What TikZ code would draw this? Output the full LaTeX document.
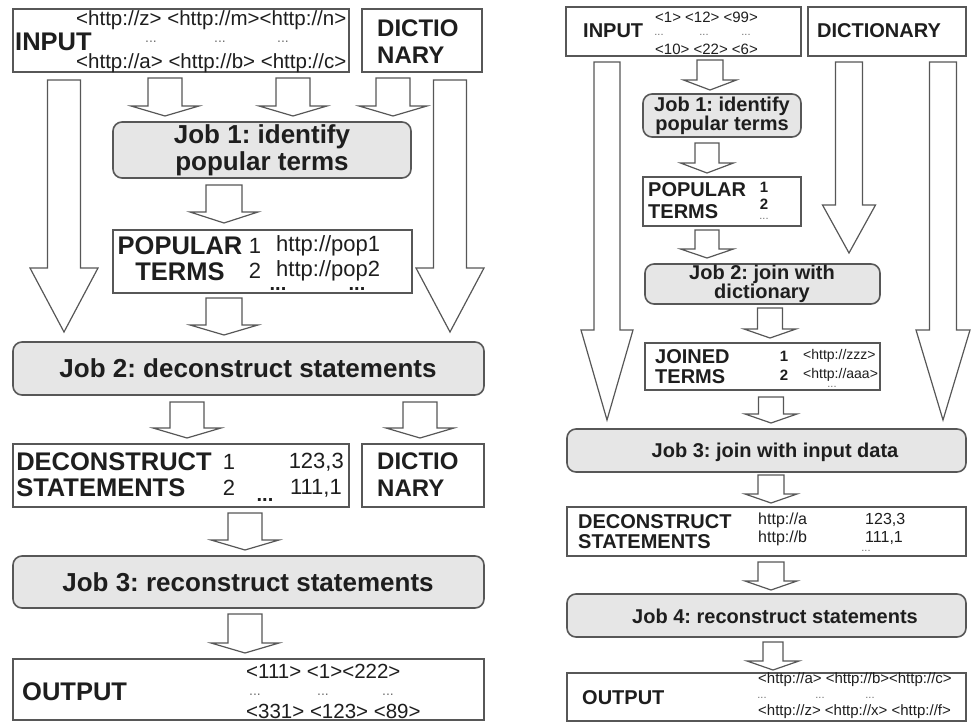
\documentclass[tikz,border=0pt]{standalone}
\usepackage{fontspec}
\setmainfont{Liberation Sans}
\usetikzlibrary{fit}
\definecolor{ln}{HTML}{575757}
\definecolor{jobfill}{HTML}{E6E6E6}
\definecolor{tx}{HTML}{1E1E1E}
\definecolor{dotc}{HTML}{707070}
\newcommand\fsz[2]{\fontsize{#1}{#2}\selectfont}
\tikzset{
  box/.style={draw=ln, line width=1.6pt, inner sep=0pt, fill=white},
  jobbox/.style={draw=ln, line width=1.6pt, inner sep=0pt, fill=jobfill, rounded corners=9pt},
  blk/.style={draw=ln, line width=1.2pt, fill=white, line join=miter},
  labL/.style={inner sep=0pt, text=tx, font=\fsz{25.5}{26}\bfseries, align=left},
  labLc/.style={inner sep=0pt, text=tx, font=\fsz{25.5}{26}\bfseries, align=center},
  jobL/.style={inner sep=0pt, text=tx, font=\fsz{26}{27}\bfseries, align=center},
  smL/.style={inner sep=0pt, text=tx, font=\fsz{20.5}{21}},
  numL/.style={inner sep=0pt, text=tx, font=\fsz{22}{22}},
  dotL/.style={inner sep=0pt, text=dotc, font=\fsz{14}{14}},
  bdotL/.style={inner sep=0pt, text=tx, font=\fsz{20}{20}\bfseries},
  labR/.style={inner sep=0pt, text=tx, font=\fsz{20}{21}\bfseries, align=left},
  jobR/.style={inner sep=0pt, text=tx, font=\fsz{20}{19}\bfseries, align=center},
  smR/.style={inner sep=0pt, text=tx, font=\fsz{15}{15}},
  numR/.style={inner sep=0pt, text=tx, font=\fsz{15}{15}\bfseries},
  dotR/.style={inner sep=0pt, text=dotc, font=\fsz{11}{11}},
}
% block arrow: x, top, tip, shaft half width, head half width, head length
\newcommand\barrow[6]{%
  \draw[blk] (#1-#4,#2) -- (#1+#4,#2) -- (#1+#4,#3-#6) -- (#1+#5,#3-#6) -- (#1,#3)
    -- (#1-#5,#3-#6) -- (#1-#4,#3-#6) -- cycle;}
\begin{document}
\frenchspacing
\begin{tikzpicture}[x=1pt,y=-1pt]
\useasboundingbox (0,0) rectangle (974,722);

%%%%%%%%%%%%%%%% LEFT PANEL %%%%%%%%%%%%%%%%
% big arrows
\barrow{64}{80}{332}{16.5}{34}{64}
\barrow{450}{80}{332}{16.5}{34}{64}
% small arrows to Job 1
\barrow{165}{78}{116}{17}{34}{10}
\barrow{293}{78}{116}{17}{34}{10}
\barrow{393}{78}{116}{17}{34}{10}

\node[box, fit={(13,9) (349,72)}] (inL) {};
\node[labL, anchor=west] (inLt) at (15,42) {INPUT};
\node[smL, anchor=west] (inL1) at (76,20) {<http://z> <http://m><http://n>};
\node[dotL] (inLd1) at (151,42) {...};
\node[dotL] (inLd2) at (220,42) {...};
\node[dotL] (inLd3) at (283,42) {...};
\node[smL, anchor=west] (inL2) at (76,63) {<http://a> <http://b> <http://c>};

\node[box, fit={(362,9) (482,72)}] (dictL) {};
\node[labL, anchor=west, font=\fsz{24}{27}\bfseries] (dictLt) at (377,42) {DICTIO\\NARY};

\node[jobbox, fit={(113,122) (411,178)}] (job1L) {};
\node[jobL] (job1Lt) at (262,150) {Job 1: identify\\popular terms};

\barrow{224}{185}{223}{18}{34}{11}

\node[box, fit={(113,230) (412,293)}] (popL) {};
\node[labLc] (popLt) at (180,259) {POPULAR\\TERMS};
\node[numL] (popL1) at (255,246) {1};
\node[numL] (popL2) at (255,271) {2};
\node[numL, anchor=west] (popLu1) at (276,246) {http://pop1};
\node[numL, anchor=west] (popLu2) at (276,271) {http://pop2};
\node[bdotL] (popLd1) at (278,289) {...};
\node[bdotL] (popLd2) at (357,289) {...};

\barrow{224}{298}{335}{18}{34}{10}

\node[jobbox, fit={(13,342) (484,395)}] (job2L) {};
\node[jobL] (job2Lt) at (248,368) {Job 2: deconstruct statements};

\barrow{187}{402}{438}{17}{34}{10}
\barrow{420}{402}{438}{17}{34}{10}

\node[box, fit={(13,444) (349,507)}] (decL) {};
\node[labL] (decLt) at (114,475) {DECONSTRUCT\\STATEMENTS};
\node[numL] (decL1) at (229,462) {1};
\node[numL] (decL2) at (229,488) {2};
\node[numL, anchor=east] (decLv1) at (344,462) {123,3};
\node[numL, anchor=east] (decLv2) at (342,488) {111,1};
\node[bdotL] (decLd) at (265,500) {...};

\node[box, fit={(362,444) (484,507)}] (dictL2) {};
\node[labL, anchor=west, font=\fsz{24}{27}\bfseries] (dictL2t) at (377,475) {DICTIO\\NARY};

\barrow{245}{513}{550}{17}{34}{10}

\node[jobbox, fit={(13,556) (484,608)}] (job3L) {};
\node[jobL] (job3Lt) at (248,582) {Job 3: reconstruct statements};

\barrow{245}{614}{653}{17}{34}{10}

\node[box, fit={(13,659) (484,720)}] (outL) {};
\node[labL, anchor=west] (outLt) at (22,692) {OUTPUT};
\node[smL, anchor=west] (outL1) at (246,671) {<111> <1><222>};
\node[dotL] (outLd1) at (255,695) {...};
\node[dotL] (outLd2) at (323,695) {...};
\node[dotL] (outLd3) at (388,695) {...};
\node[smL, anchor=west] (outL2) at (246,711) {<331> <123> <89>};

%%%%%%%%%%%%%%%% RIGHT PANEL %%%%%%%%%%%%%%%%
\barrow{607}{62}{420}{13}{26}{90}
\barrow{849}{62}{253}{13.5}{26.5}{48}
\barrow{943}{62}{420}{13.5}{27}{90}
\barrow{710}{60}{90}{13}{26.5}{10}

\node[box, fit={(566,7) (801,56)}] (inR) {};
\node[labR, anchor=west] (inRt) at (583,31) {INPUT};
\node[smR, anchor=west] (inR1) at (655,17) {<1> <12> <99>};
\node[dotR] (inRd1) at (659,35) {...};
\node[dotR] (inRd2) at (704,35) {...};
\node[dotR] (inRd3) at (746,35) {...};
\node[smR, anchor=west] (inR2) at (655,49) {<10> <22> <6>};

\node[box, fit={(808,7) (966,56)}] (dictR) {};
\node[labR, anchor=west] (dictRt) at (817,31) {DICTIONARY};

\node[jobbox, fit={(643,94) (801,137)}] (job1R) {};
\node[jobR] (job1Rt) at (722,116) {Job 1: identify\\popular terms};

\barrow{707}{143}{173}{12}{26.5}{10}

\node[box, fit={(643,177) (801,226)}] (popR) {};
\node[labR, anchor=west, font=\fsz{20}{22}\bfseries] (popRt) at (648,201) {POPULAR\\TERMS};
\node[numR] (popR1) at (764,187) {1};
\node[numR] (popR2) at (764,204) {2};
\node[dotR] (popRd) at (764,219) {...};

\barrow{707}{230}{258}{12}{26.5}{9}

\node[jobbox, fit={(645,264) (880,304)}] (job2R) {};
\node[jobR] (job2Rt) at (762,284) {Job 2: join with\\dictionary};

\barrow{770}{308}{338}{12.5}{26}{9}

\node[box, fit={(645,343) (880,390)}] (joinR) {};
\node[labR, anchor=west, font=\fsz{20}{20}\bfseries] (joinRt) at (655,367) {JOINED\\TERMS};
\node[numR] (joinR1) at (784,356) {1};
\node[numR] (joinR2) at (784,375) {2};
\node[smR, anchor=west, font=\fsz{14}{15}] (joinRu1) at (803,356) {<http://zzz>};
\node[smR, anchor=west, font=\fsz{14}{15}] (joinRu2) at (803,375) {<http://aaa>};
\node[dotR] (joinRd) at (832,387) {...};

\barrow{771}{397}{423}{12.5}{26}{9}

\node[jobbox, fit={(567,429) (966,472)}] (job3R) {};
\node[jobR] (job3Rt) at (775,452) {Job 3: join with input data};

\barrow{771}{475}{503}{13}{26}{9}

\node[box, fit={(567,507) (966,556)}] (decR) {};
\node[labR, anchor=west, font=\fsz{20}{20}\bfseries] (decRt) at (578,532) {DECONSTRUCT\\STATEMENTS};
\node[smR, anchor=west, font=\fsz{16}{16}] (decRu1) at (758,520) {http://a};
\node[smR, anchor=west, font=\fsz{16}{16}] (decRu2) at (758,538) {http://b};
\node[smR, anchor=west, font=\fsz{16}{16}] (decRv1) at (865,520) {123,3};
\node[smR, anchor=west, font=\fsz{16}{16}] (decRv2) at (865,538) {111,1};
\node[dotR] (decRd) at (866,551) {...};

\barrow{771}{562}{590}{13}{26}{9}

\node[jobbox, fit={(567,594) (966,637)}] (job4R) {};
\node[jobR] (job4Rt) at (775,616) {Job 4: reconstruct statements};

\barrow{773}{642}{670}{10}{26}{9}

\node[box, fit={(567,673) (966,721)}] (outR) {};
\node[labR, anchor=west] (outRt) at (582,698) {OUTPUT};
\node[smR, anchor=west] (outR1) at (758,680) {<http://a> <http://b><http://c>};
\node[dotR] (outRd1) at (762,698) {...};
\node[dotR] (outRd2) at (820,698) {...};
\node[dotR] (outRd3) at (870,698) {...};
\node[smR, anchor=west] (outR2) at (758,712) {<http://z> <http://x> <http://f>};
\end{tikzpicture}
\end{document}
